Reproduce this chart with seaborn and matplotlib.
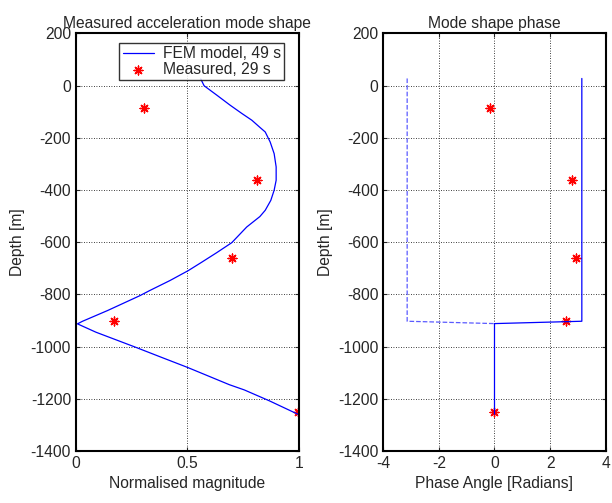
import matplotlib
matplotlib.use("Agg")
import matplotlib.pyplot as plt
import numpy as np
import seaborn as sns

# FEM model magnitude profile (normalised) vs depth
fem_depth = [25, -1, -37, -75, -107, -133, -161, -178, -216, -261, -312, -363,
             -401, -440, -478, -502, -542, -602, -640, -677, -709, -747, -785,
             -805, -862, -903, -913, -945, -1003, -1040, -1080, -1146, -1166,
             -1208, -1259]
fem_mag = [0.56, 0.575, 0.632, 0.691, 0.744, 0.789, 0.826, 0.849, 0.871, 0.889,
           0.898, 0.898, 0.889, 0.874, 0.849, 0.825, 0.766, 0.699, 0.632, 0.564,
           0.504, 0.422, 0.332, 0.287, 0.142, 0.030, 0.007, 0.090, 0.269, 0.380,
           0.501, 0.688, 0.755, 0.868, 0.995]

# measured points
meas_depth = [-86, -363, -660, -903, -1249]
meas_mag = [0.305, 0.814, 0.699, 0.172, 0.998]
meas_phase = [-0.15, 2.80, 2.94, 2.57, 0.0]

# FEM phase (wrapped), solid and dashed branches
phase_solid_depth = [27, -903, -912, -1259]
phase_solid = [np.pi, np.pi, 0.0, 0.0]
phase_dash_depth = [27, -903, -912]
phase_dash = [-np.pi, -np.pi, 0.0]

sns.set_style("ticks")
plt.rcParams["font.family"] = ["Liberation Sans", "DejaVu Sans"]
plt.rcParams["font.size"] = 11.25
plt.rcParams["xtick.direction"] = "in"
plt.rcParams["ytick.direction"] = "in"
plt.rcParams["axes.unicode_minus"] = False

fig = plt.figure(figsize=(6.12, 5.03), dpi=100)
ax1 = fig.add_axes([0.124, 0.1034, 0.3644, 0.8304])
ax2 = fig.add_axes([0.6263, 0.1034, 0.3634, 0.8304])

grid_kw = dict(color="black", linestyle=(0, (1, 2)), linewidth=0.6)
fs = 11.25

sns.lineplot(x=fem_mag, y=fem_depth, sort=False, estimator=None, ax=ax1,
             color="blue", linewidth=0.9, label="FEM model, 49 s")
sns.scatterplot(x=meas_mag, y=meas_depth, ax=ax1, color="red", marker=(8, 2, 0),
                s=40, linewidth=1.0, label="Measured, 29 s")
ax1.set_xlim(0, 1)
ax1.set_ylim(-1400, 200)
ax1.set_xticks([0, 0.5, 1])
ax1.set_xticklabels(["0", "0.5", "1"])
ax1.set_yticks(range(-1400, 201, 200))
ax1.set_title("Measured acceleration mode shape", fontsize=fs, pad=4)
ax1.set_xlabel("Normalised magnitude", fontsize=fs)
ax1.set_ylabel("Depth [m]", fontsize=fs)
leg = ax1.legend(loc="upper right", frameon=True, fancybox=False, fontsize=fs,
                 borderpad=0.2, handlelength=2.0, labelspacing=0.05,
                 handletextpad=0.6, bbox_to_anchor=(0.935, 0.977), borderaxespad=0)
leg.get_frame().set_edgecolor("black")
leg.get_frame().set_linewidth(1.0)

sns.lineplot(x=phase_dash, y=phase_dash_depth, sort=False, estimator=None, ax=ax2,
             color="#5a5aff", linewidth=0.9, linestyle="--", dashes=(2, 1))
sns.lineplot(x=phase_solid, y=phase_solid_depth, sort=False, estimator=None, ax=ax2,
             color="blue", linewidth=0.9)
sns.scatterplot(x=meas_phase, y=meas_depth, ax=ax2, color="red", marker=(8, 2, 0),
                s=40, linewidth=1.0)
ax2.set_xlim(-4, 4)
ax2.set_ylim(-1400, 200)
ax2.set_xticks([-4, -2, 0, 2, 4])
ax2.set_yticks(range(-1400, 201, 200))
ax2.set_title("Mode shape phase", fontsize=fs, pad=4)
ax2.set_xlabel("Phase Angle [Radians]", fontsize=fs)
ax2.set_ylabel("Depth [m]", fontsize=fs)

for ax in (ax1, ax2):
    ax.grid(True, **grid_kw)
    ax.tick_params(labelsize=fs, length=3, top=True, right=True, width=0.8)
    for sp in ax.spines.values():
        sp.set_visible(True)
        sp.set_linewidth(1.5)
        sp.set_color("black")

fig.savefig("out.png", dpi=100)
